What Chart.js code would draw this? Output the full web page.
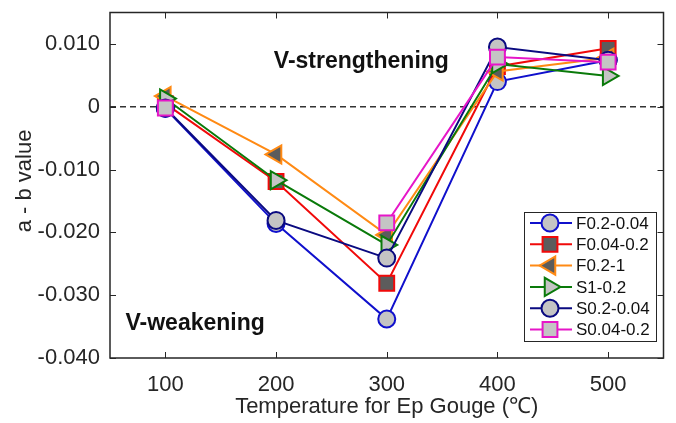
<!DOCTYPE html>
<html>
<head>
<meta charset="utf-8">
<script src="https://cdn.jsdelivr.net/npm/chart.js@4"></script>
<style>
  html, body { margin: 0; padding: 0; background: #fff; }
  #wrap { width: 676px; height: 423px; }
</style>
</head>
<body>
<div id="wrap"><canvas id="myChart" width="676" height="423"></canvas></div>
<script>
const temps = [100, 200, 300, 400, 500];
const xTicks = [100, 200, 300, 400, 500];
const yTicks = [0.01, 0, -0.01, -0.02, -0.03, -0.04];

const seriesNames = ['F0.2-0.04', 'F0.04-0.2', 'F0.2-1', 'S1-0.2', 'S0.2-0.04', 'S0.04-0.2'];
const f02_004 = [-0.0003, -0.0186, -0.0338, 0.0040, 0.0074];
const f004_02 = [0.0005, -0.0119, -0.0281, 0.0064, 0.0093];
const f02_1 = [0.0017, -0.0076, -0.0204, 0.0056, 0.0078];
const s1_02 = [0.0013, -0.0117, -0.0220, 0.0068, 0.0049];
const s02_004 = [-0.0002, -0.0181, -0.0241, 0.0095, 0.0074];
const s004_02 = [-0.0002, null, -0.0185, 0.0079, 0.0071];

const styles = [
    { color: '#1010cc', fill: '#c4c4c4', shape: 'circle', rot: 0, r: 8.5 },
    { color: '#f00a0a', fill: '#5c5c5c', shape: 'rect', rot: 0, r: 10.5 },
    { color: '#ff8a14', fill: '#5c5c5c', shape: 'triangle', rot: -90, r: 10.5 },
    { color: '#0a7a0a', fill: '#c4c4c4', shape: 'triangle', rot: 90, r: 10.5 },
    { color: '#0a0a80', fill: '#c4c4c4', shape: 'circle', rot: 0, r: 8.5 },
    { color: '#e616c8', fill: '#c4c4c4', shape: 'rect', rot: 0, r: 10.5 }
];

const allValues = [f02_004, f004_02, f02_1, s1_02, s02_004, s004_02];

const datasets = allValues.map((vals, i) => ({
    label: seriesNames[i],
    data: temps.map((t, j) => ({ x: t, y: vals[j] })),
    borderColor: styles[i].color,
    borderWidth: 2,
    pointStyle: styles[i].shape,
    pointRotation: styles[i].rot,
    pointRadius: styles[i].r,
    pointHoverRadius: styles[i].r,
    pointBackgroundColor: styles[i].fill,
    pointBorderColor: styles[i].color,
    pointBorderWidth: 2,
    spanGaps: false,
    order: allValues.length - i
}));

const axisColor = '#262626';
const fontFamily = '"Liberation Sans", Arial, sans-serif';

function drawMarker(ctx, shape, rot, r, x, y) {
    if (shape === 'circle') {
        ctx.arc(x, y, r, 0, Math.PI * 2);
    } else if (shape === 'rect') {
        const s = Math.SQRT1_2 * r;
        ctx.rect(x - s, y - s, 2 * s, 2 * s);
    } else {
        let a = rot * Math.PI / 180;
        ctx.moveTo(x + Math.sin(a) * r, y - Math.cos(a) * r);
        for (let k = 0; k < 2; k++) {
            a += Math.PI * 2 / 3;
            ctx.lineTo(x + Math.sin(a) * r, y - Math.cos(a) * r);
        }
        ctx.closePath();
    }
}

const framePlugin = {
    id: 'frame',
    beforeDatasetsDraw(chart) {
        const { ctx, chartArea, scales } = chart;
        const y0 = scales.y.getPixelForValue(0);
        ctx.save();
        ctx.strokeStyle = '#333';
        ctx.lineWidth = 1.3;
        ctx.setLineDash([6, 4]);
        ctx.beginPath();
        ctx.moveTo(chartArea.left, y0);
        ctx.lineTo(chartArea.right, y0);
        ctx.stroke();
        ctx.restore();
    },
    afterDraw(chart) {
        const { ctx, chartArea, scales } = chart;
        const { left, right, top, bottom } = chartArea;
        ctx.save();
        // box with inward ticks
        ctx.strokeStyle = axisColor;
        ctx.lineWidth = 1.5;
        ctx.strokeRect(left, top, right - left, bottom - top);
        ctx.lineWidth = 1;
        ctx.beginPath();
        xTicks.forEach(v => {
            const px = Math.round(scales.x.getPixelForValue(v)) + 0.5;
            ctx.moveTo(px, bottom); ctx.lineTo(px, bottom - 6);
            ctx.moveTo(px, top); ctx.lineTo(px, top + 6);
        });
        yTicks.forEach(v => {
            const py = Math.round(scales.y.getPixelForValue(v)) + 0.5;
            ctx.moveTo(left, py); ctx.lineTo(left + 6, py);
            ctx.moveTo(right, py); ctx.lineTo(right - 6, py);
        });
        ctx.stroke();

        // axis titles
        ctx.fillStyle = axisColor;
        ctx.font = '22px ' + fontFamily;
        ctx.textAlign = 'center';
        ctx.textBaseline = 'middle';
        ctx.fillText('Temperature for Ep Gouge (℃)', (left + right) / 2, 407);
        ctx.save();
        ctx.translate(25, 181);
        ctx.rotate(-Math.PI / 2);
        ctx.fillText('a - b value', 0, 0);
        ctx.restore();

        // region labels
        ctx.fillStyle = '#111';
        ctx.font = 'bold 23px ' + fontFamily;
        ctx.textAlign = 'left';
        ctx.fillText('V-strengthening', scales.x.getPixelForValue(198), scales.y.getPixelForValue(0.0071));
        ctx.fillText('V-weakening', scales.x.getPixelForValue(64), scales.y.getPixelForValue(-0.0345));

        // legend inside the axes
        const bx = 524, by = 212, bw = 132, bh = 129;
        ctx.fillStyle = '#fff';
        ctx.fillRect(bx, by, bw, bh);
        ctx.strokeStyle = axisColor;
        ctx.lineWidth = 1;
        ctx.strokeRect(bx + 0.5, by + 0.5, bw, bh);
        ctx.font = '17px ' + fontFamily;
        chart.data.datasets.forEach((ds, i) => {
            const cy = by + 11 + i * 21.3;
            ctx.strokeStyle = ds.borderColor;
            ctx.lineWidth = 2;
            ctx.beginPath();
            ctx.moveTo(bx + 6, cy);
            ctx.lineTo(bx + 48, cy);
            ctx.stroke();
            ctx.fillStyle = ds.pointBackgroundColor;
            ctx.strokeStyle = ds.pointBorderColor;
            ctx.beginPath();
            drawMarker(ctx, ds.pointStyle, ds.pointRotation, ds.pointRadius, bx + 26, cy);
            ctx.fill();
            ctx.stroke();
            ctx.fillStyle = '#111';
            ctx.textAlign = 'left';
            ctx.fillText(ds.label, bx + 52, cy + 1);
        });
        ctx.restore();
    }
};

const ctx = document.getElementById('myChart');
new Chart(ctx, {
    type: 'line',
    data: { datasets: datasets },
    plugins: [framePlugin],
    options: {
        responsive: false,
        animation: false,
        layout: { padding: { top: 10, right: 8, left: 0, bottom: 0 } },
        scales: {
            x: {
                type: 'linear',
                min: 50,
                max: 550,
                grid: { display: false, drawTicks: false },
                border: { display: false },
                afterBuildTicks: (scale) => { scale.ticks = xTicks.map(v => ({ value: v })); },
                afterFit: (scale) => {
                    scale.height = 65;
                    scale.paddingLeft = 0;
                    scale.paddingRight = 0;
                },
                ticks: {
                    padding: 14,
                    color: axisColor,
                    font: { family: fontFamily, size: 22 }
                }
            },
            y: {
                min: -0.04,
                max: 0.015,
                grid: { display: false, drawTicks: false },
                border: { display: false },
                afterBuildTicks: (scale) => { scale.ticks = yTicks.map(v => ({ value: v })); },
                afterFit: (scale) => {
                    scale.width = 110;
                    scale.paddingTop = 0;
                    scale.paddingBottom = 0;
                },
                ticks: {
                    padding: 10,
                    color: axisColor,
                    font: { family: fontFamily, size: 22 },
                    callback: (v) => v === 0 ? '0' : v.toFixed(3)
                }
            }
        },
        plugins: {
            legend: { display: false },
            tooltip: { enabled: false }
        }
    }
});
</script>
</body>
</html>
